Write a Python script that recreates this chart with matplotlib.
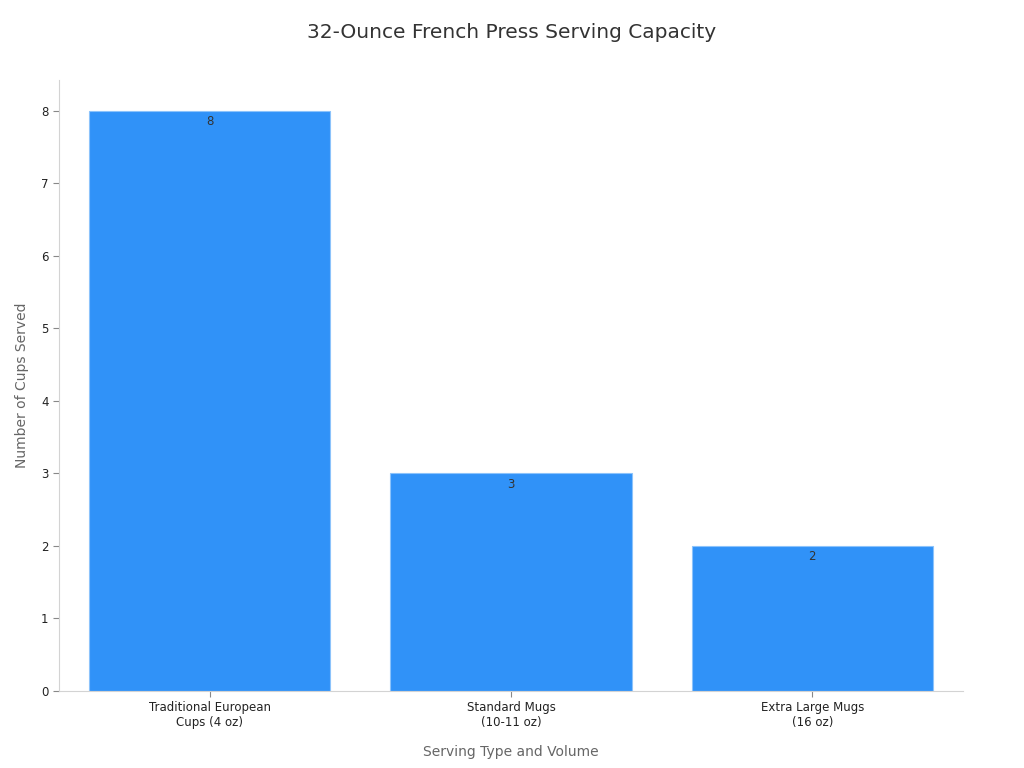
import matplotlib.pyplot as plt

categories = ['Traditional European\nCups (4 oz)', 'Standard Mugs\n(10-11 oz)', 'Extra Large Mugs\n(16 oz)']
cups = [8, 3, 2]

fig = plt.figure(figsize=(10.24, 7.68), dpi=100)
ax = fig.add_axes([0.0576, 0.1003, 0.8828, 0.7955])

x = range(len(categories))
bars = ax.bar(x, cups, width=0.8, color='#3092f8', edgecolor='#8cc3fb', linewidth=0.8)

for b, v in zip(bars, cups):
    ax.text(b.get_x() + b.get_width() / 2, v - 0.06, str(v), ha='center', va='top',
            fontsize=8.5, color='#333333')

ax.set_xlim(-0.5, 2.5)
ax.set_ylim(0, 8.42)
ax.set_xticks(list(x))
ax.set_xticklabels(categories, fontsize=8.5, color='#222222')
ax.set_yticks(range(0, 9))
ax.tick_params(axis='y', labelsize=8.5, colors='#222222', length=4, color='#888888')
ax.tick_params(axis='x', length=4, color='#888888')

for s in ['top', 'right']:
    ax.spines[s].set_visible(False)
for s in ['left', 'bottom']:
    ax.spines[s].set_color('#d3d3d3')

ax.set_xlabel('Serving Type and Volume', fontsize=10, color='#666666', labelpad=11)
ax.set_ylabel('Number of Cups Served', fontsize=10, color='#666666', labelpad=9)
fig.suptitle('32-Ounce French Press Serving Capacity', fontsize=14.5, color='#333333', y=0.97)

fig.savefig('out.png', dpi=100)
